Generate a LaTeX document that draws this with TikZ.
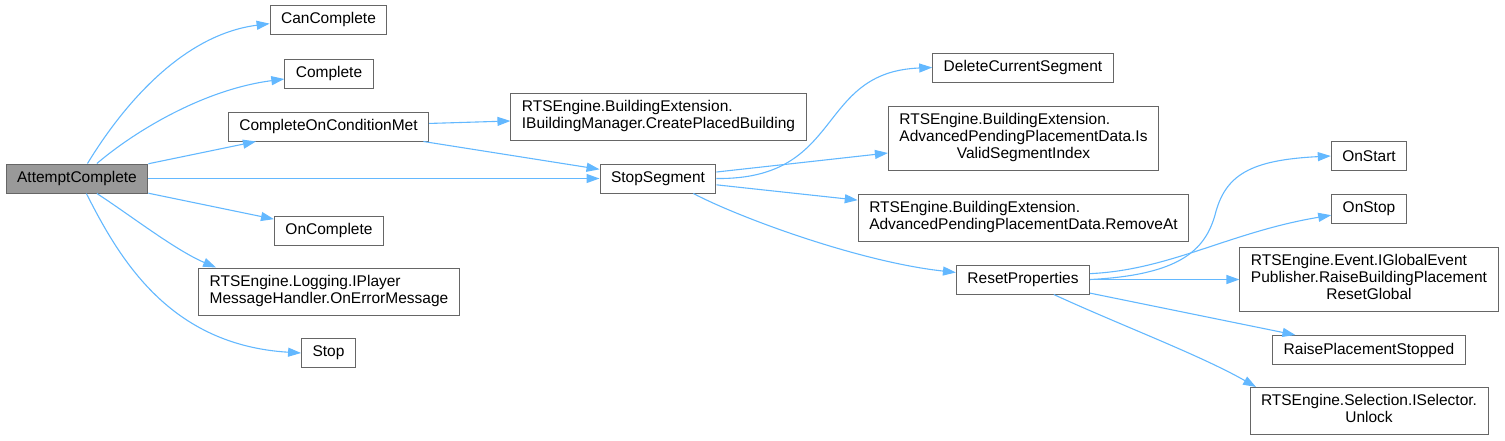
\documentclass[tikz,border=0pt]{standalone}
\usepackage{fontspec}
\setmainfont{Liberation Sans}
\usetikzlibrary{arrows.meta}
\definecolor{edgeblue}{HTML}{63B8FF}
\definecolor{boxgray}{HTML}{666666}
\definecolor{rootgray}{HTML}{999999}
\newcommand{\twolines}[2]{\begin{tabular}{@{}l@{}}#1\\\multicolumn{1}{@{}c@{}}{#2}\end{tabular}}
\newcommand{\threelines}[3]{\begin{tabular}{@{}l@{}}#1\\#2\\\multicolumn{1}{@{}c@{}}{#3}\end{tabular}}
\begin{document}
\begin{tikzpicture}[x=1pt,y=-1pt,
  fn/.style={draw=boxgray,fill=white,line width=1pt,inner xsep=11pt,inner ysep=6.5pt,minimum height=29pt,font=\fontsize{15.5}{17}\selectfont},
  root/.style={fn,fill=rootgray},
  call/.style={draw=edgeblue,line width=1.1pt,-{Triangle[length=13pt,width=9pt]}}]
\useasboundingbox (0,0) rectangle (1505,440);
\node[root] (att) at (77,178.5) {AttemptComplete};
\node[fn] (canComplete) at (328.5,19.5) {CanComplete};
\node[fn] (complete) at (329,73.5) {Complete};
\node[fn] (condMet) at (328.5,126.5) {CompleteOnConditionMet};
\node[fn] (onComplete) at (329,230.5) {OnComplete};
\node[fn] (errorMsg) at (329,291.5) {\twolines{RTSEngine.Logging.IPlayer}{MessageHandler.OnErrorMessage}};
\node[fn] (stop) at (328.5,353) {Stop};
\node[fn] (createPlaced) at (658.5,116.5) {\twolines{RTSEngine.BuildingExtension.}{IBuildingManager.CreatePlacedBuilding}};
\node[fn] (stopSegment) at (658,178.5) {StopSegment};
\node[fn] (deleteSeg) at (1023,67.5) {DeleteCurrentSegment};
\node[fn] (isValid) at (1023.5,138) {\threelines{RTSEngine.BuildingExtension.}{AdvancedPendingPlacementData.Is}{ValidSegmentIndex}};
\node[fn] (removeAt) at (1023.5,218) {\twolines{RTSEngine.BuildingExtension.}{AdvancedPendingPlacementData.RemoveAt}};
\node[fn] (resetProps) at (1023,279.5) {ResetProperties};
\node[fn] (onStart) at (1369,156) {OnStart};
\node[fn] (onStop) at (1369,208.5) {OnStop};
\node[fn] (resetGlobal) at (1369,279.5) {\threelines{RTSEngine.Event.IGlobalEvent}{Publisher.RaiseBuildingPlacement}{ResetGlobal}};
\node[fn] (raiseStopped) at (1369,350) {RaisePlacementStopped};
\node[fn] (unlock) at (1369,411) {\twolines{RTSEngine.Selection.ISelector.}{Unlock}};
% calls from AttemptComplete
\draw[call] (att.55) .. controls (120,110) and (180,35) .. (canComplete.184);
\draw[call] (att.37) .. controls (130,135) and (200,90) .. (complete.187);
\draw[call] (att) -- (condMet);
\draw[call] (att) -- (stopSegment);
\draw[call] (att) -- (onComplete);
\draw[call] (att.-37) .. controls (130,215) and (175,250) .. (errorMsg.168);
\draw[call] (att.-58) .. controls (120,260) and (170,345) .. (stop.west);
\draw[call] (condMet) -- (createPlaced);
\draw[call] (condMet) -- (stopSegment);
% calls from StopSegment
\draw[call] (stopSegment.east) .. controls (845,180) and (815,72) .. (deleteSeg.west);
\draw[call] (stopSegment) -- (isValid);
\draw[call] (stopSegment) -- (removeAt);
\draw[call] (stopSegment.-23) .. controls (740,218) and (860,262) .. (resetProps.174);
% calls from ResetProperties
\draw[call] (resetProps.east) .. controls (1180,275) and (1205,250) .. (1215,215) .. controls (1225,175) and (1250,160) .. (onStart.west);
\draw[call] (resetProps.5) .. controls (1170,270) and (1230,232) .. (onStop.190);
\draw[call] (resetProps) -- (resetGlobal);
\draw[call] (resetProps) -- (raiseStopped);
\draw[call] (resetProps.-26) .. controls (1120,325) and (1200,355) .. (unlock.168);
\end{tikzpicture}
\end{document}
